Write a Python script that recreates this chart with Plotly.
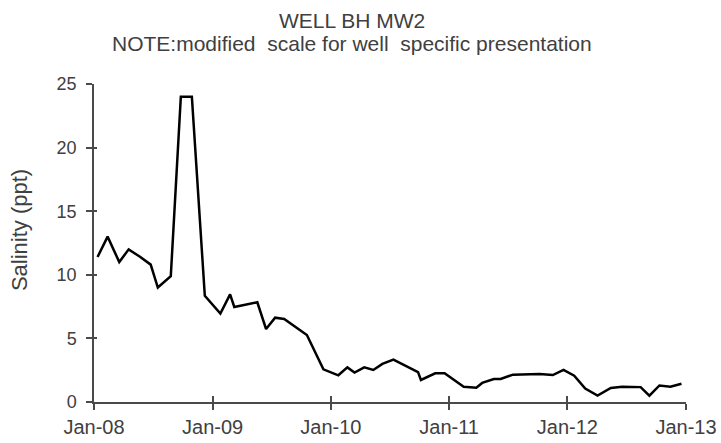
import plotly.graph_objects as go

# Salinity readings for well BH MW2 (ppt)
dates = [
    "2008-01-12", "2008-02-12", "2008-03-19", "2008-04-17", "2008-05-23",
    "2008-06-24", "2008-07-16", "2008-08-25", "2008-09-25", "2008-10-29",
    "2008-12-08", "2009-01-25", "2009-02-24", "2009-03-09", "2009-05-19",
    "2009-06-15", "2009-07-13", "2009-08-10", "2009-10-19", "2009-12-09",
    "2010-01-24", "2010-02-21", "2010-03-15", "2010-04-14", "2010-05-12",
    "2010-06-09", "2010-07-13", "2010-09-27", "2010-10-06", "2010-11-19",
    "2010-12-18", "2011-02-15", "2011-03-26", "2011-04-13", "2011-05-19",
    "2011-06-09", "2011-07-17", "2011-10-07", "2011-11-17", "2011-12-20",
    "2012-01-22", "2012-02-25", "2012-04-03", "2012-05-14", "2012-06-18",
    "2012-08-14", "2012-09-10", "2012-10-11", "2012-11-14", "2012-12-18",
]
salinity = [
    11.4, 13.0, 11.0, 12.0, 11.4,
    10.8, 9.0, 9.9, 24.0, 24.0,
    8.35, 6.95, 8.46, 7.47, 7.84,
    5.74, 6.63, 6.53, 5.27, 2.57,
    2.1, 2.72, 2.32, 2.72, 2.52,
    3.0, 3.33, 2.35, 1.73, 2.26,
    2.26, 1.2, 1.12, 1.5, 1.81,
    1.81, 2.15, 2.2, 2.12, 2.52,
    2.07, 1.05, 0.5, 1.1, 1.2,
    1.17, 0.5, 1.3, 1.2, 1.44,
]

x_ticks = ["2008-01-01", "2009-01-01", "2010-01-01", "2011-01-01", "2012-01-01", "2013-01-01"]
x_labels = ["Jan-08", "Jan-09", "Jan-10", "Jan-11", "Jan-12", "Jan-13"]
y_ticks = [0, 5, 10, 15, 20, 25]

title_line1 = "WELL BH MW2"
title_line2 = "NOTE:modified\u00a0 scale for well\u00a0 specific presentation"
y_title = "Salinity (ppt)"

FONT = "Liberation Sans, Arial, sans-serif"
TEXT = "#404040"
AXIS = "#4a4a4a"

fig = go.Figure()
fig.add_trace(go.Scatter(
    x=dates, y=salinity, mode="lines",
    line=dict(color="#000000", width=2.5),
    showlegend=False, hoverinfo="x+y",
))
# invisible trace on the overlay axes so their inside tick marks render
fig.add_trace(go.Scatter(
    x=[x_ticks[0]], y=[0], xaxis="x2", yaxis="y2",
    mode="markers", marker=dict(opacity=0), showlegend=False, hoverinfo="skip",
))

x_range = [x_ticks[0], x_ticks[-1]]
y_range = [0, 25]

fig.update_layout(
    width=721, height=443,
    margin=dict(l=93.5, r=34.7, t=84, b=41),
    paper_bgcolor="white", plot_bgcolor="white",
    font=dict(family=FONT, color=TEXT, size=16),
    xaxis=dict(
        type="date", range=x_range, tickvals=x_ticks, ticktext=x_labels,
        showgrid=False, zeroline=False, showline=True, linecolor=AXIS, linewidth=1.5,
        ticks="outside", ticklen=6, tickwidth=1.5, tickcolor=AXIS,
        tickfont=dict(size=20, color=TEXT), automargin=False,
    ),
    yaxis=dict(
        range=y_range, tickvals=y_ticks,
        showgrid=False, zeroline=False, showline=True, linecolor=AXIS, linewidth=1.5,
        ticks="outside", ticklen=6, tickwidth=1.5, tickcolor=AXIS,
        tickfont=dict(size=18, color=TEXT), ticklabelstandoff=6, automargin=False,
    ),
    xaxis2=dict(
        type="date", range=x_range, tickvals=x_ticks, overlaying="x", anchor="y",
        showticklabels=False, showgrid=False, zeroline=False, showline=False,
        ticks="inside", ticklen=6, tickwidth=1.5, tickcolor=AXIS, automargin=False,
    ),
    yaxis2=dict(
        range=y_range, tickvals=y_ticks, overlaying="y", anchor="x",
        showticklabels=False, showgrid=False, zeroline=False, showline=False,
        ticks="inside", ticklen=3, tickwidth=1.5, tickcolor=AXIS, automargin=False,
    ),
    annotations=[
        dict(text=title_line1, xref="paper", yref="paper", x=0.436, y=1.201,
             xanchor="center", yanchor="middle", showarrow=False,
             font=dict(size=21, color=TEXT, family=FONT)),
        dict(text=title_line2, xref="paper", yref="paper", x=0.436, y=1.126,
             xanchor="center", yanchor="middle", showarrow=False,
             font=dict(size=21, color=TEXT, family=FONT)),
        dict(text=y_title, xref="paper", yref="paper", x=-0.127, y=0.54,
             xanchor="center", yanchor="middle", textangle=-90, showarrow=False,
             font=dict(size=22, color=TEXT, family=FONT)),
    ],
)

fig.write_html("out.html")
